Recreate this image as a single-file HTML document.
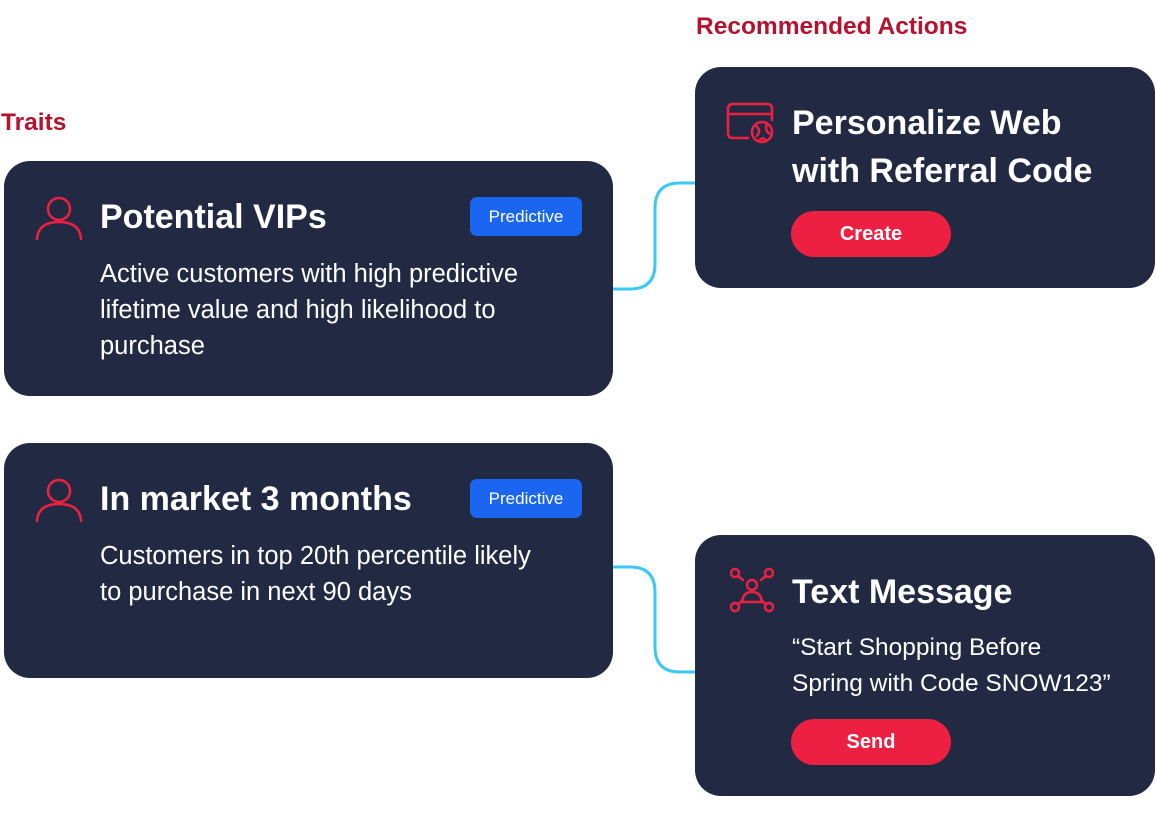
<!DOCTYPE html>
<html><head><meta charset="utf-8"><style>
body{margin:0;width:1156px;height:813px;background:#fff;position:relative;overflow:hidden;font-family:"Liberation Sans",sans-serif}
.lbl{position:absolute;color:#b5122e;font-weight:bold;font-size:24.5px;line-height:1}
.card{position:absolute;background:#222a43;border-radius:26px}
.t{position:absolute;color:#fff;font-weight:bold;font-size:34px;line-height:48px;white-space:nowrap}
.d{position:absolute;color:#fff;font-size:25.5px;line-height:36px;white-space:nowrap}
.badge{position:absolute;background:#1a66f0;color:#fff;border-radius:7px;font-size:17px;text-align:center;line-height:39px;width:112px;height:39px}
.btn{position:absolute;background:#ee2042;color:#fff;border-radius:23px;font-weight:bold;font-size:20px;text-align:center;width:160px;height:46px;line-height:46px}
svg{position:absolute;left:0;top:0}
</style></head><body>
<div class="lbl" style="left:1px;top:111px">Traits</div>
<div class="lbl" style="left:696px;top:15px">Recommended Actions</div>
<svg width="1156" height="813"><g fill="none" stroke="#3cc8f0" stroke-width="3">
<path d="M613,289 H630 Q655,289 655,264 V208 Q655,183 680,183 H697"/>
<path d="M613,567 H630 Q655,567 655,592 V647 Q655,672 680,672 H697"/>
</g></svg>
<div class="card" style="left:4px;top:161px;width:609px;height:235px"></div>
<div class="card" style="left:4px;top:443px;width:609px;height:235px"></div>
<div class="card" style="left:695px;top:67px;width:460px;height:221px"></div>
<div class="card" style="left:695px;top:535px;width:460px;height:261px"></div>
<svg width="1156" height="813"><g fill="none" stroke="#ee2042" stroke-width="2.5" stroke-linecap="round">
<circle cx="59" cy="209" r="11"/><path d="M37,239 Q38,222 59,222 Q80,222 81,239"/>
<circle cx="59" cy="491" r="11"/><path d="M37,521 Q38,504 59,504 Q80,504 81,521"/>
<path d="M748,138 H733 Q728,138 728,133 V109 Q728,104 733,104 H767 Q772,104 772,109 V120"/><path d="M728,114 H772"/>
<circle cx="762" cy="132" r="10"/><path d="M755,125 Q762,130 757,136 M767,124 Q764,130 770,134 M759,141 Q763,136 766,141"/>
<circle cx="752" cy="585" r="5"/><path d="M742,602 Q743,592 752,592 Q761,592 762,602 Z"/>
<circle cx="735" cy="573" r="4"/><path d="M738,576 L743,580"/>
<circle cx="769" cy="573" r="4"/><path d="M766,576 L761,580"/>
<circle cx="735" cy="607" r="4"/><path d="M738,604 L742,601"/>
<circle cx="769" cy="607" r="4"/><path d="M766,604 L762,601"/>
</g></svg>
<div class="t" style="left:100px;top:193px">Potential VIPs</div>
<div class="badge" style="left:470px;top:197px">Predictive</div>
<div class="d" style="left:100px;top:256px">Active customers with high predictive<br>lifetime value and high likelihood to<br>purchase</div>
<div class="t" style="left:100px;top:475px">In market 3 months</div>
<div class="badge" style="left:470px;top:479px">Predictive</div>
<div class="d" style="left:100px;top:538px">Customers in top 20th percentile likely<br>to purchase in next 90 days</div>
<div class="t" style="left:792px;top:99px">Personalize Web<br>with Referral Code</div>
<div class="btn" style="left:791px;top:211px">Create</div>
<div class="t" style="left:792px;top:568px">Text Message</div>
<div class="d" style="left:792px;top:630px;font-size:24.5px">“Start Shopping Before<br>Spring with Code SNOW123”</div>
<div class="btn" style="left:791px;top:719px">Send</div>
</body></html>
